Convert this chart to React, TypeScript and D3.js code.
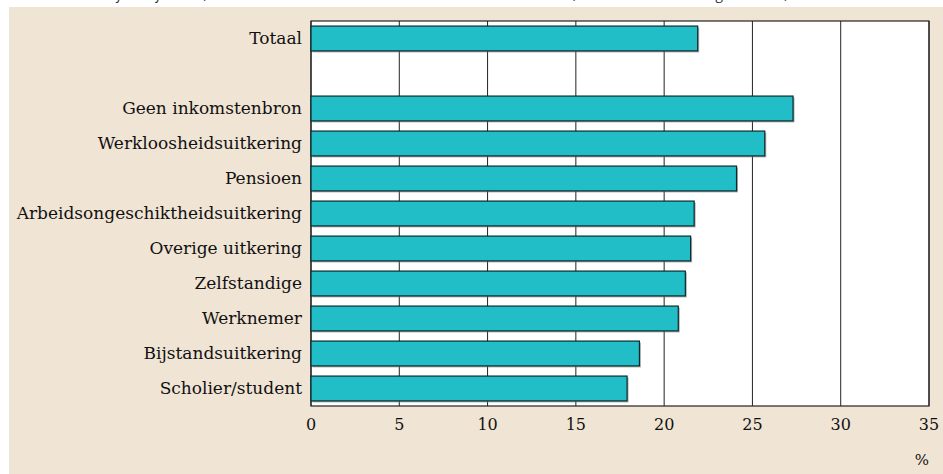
import React from "react";
import * as d3 from "d3";

const categories = [
  "Totaal",
  "",
  "Geen inkomstenbron",
  "Werkloosheidsuitkering",
  "Pensioen",
  "Arbeidsongeschiktheidsuitkering",
  "Overige uitkering",
  "Zelfstandige",
  "Werknemer",
  "Bijstandsuitkering",
  "Scholier/student",
];
const values: (number | null)[] = [21.9, null, 27.3, 25.7, 24.1, 21.7, 21.5, 21.2, 20.8, 18.6, 17.9];
const xTicks = [0, 5, 10, 15, 20, 25, 30, 35];
const titleText = "Personen van 15 jaar of ouder, naar voornaamste inkomstenbron van het huishouden, aandeel met een laag inkomen, 2008";
const unitLabel = "%";

const W = 943;
const H = 474;
const M = { left: 311, right: 929, top: 21, bottom: 406 };

export default function App() {
  const x = d3.scaleLinear().domain([0, 35]).range([M.left, M.right]);
  const y = d3
    .scaleBand<string>()
    .domain(categories.map((c, i) => String(i)))
    .range([M.top, M.bottom])
    .paddingInner(0.29)
    .paddingOuter(0.145);

  const serif = "'DejaVu Serif', serif";

  return (
    <svg width={W} height={H} style={{ position: "absolute", left: 0, top: 0 }}>
      <rect x={0} y={0} width={W} height={H} fill="#ffffff" />
      <text
        x={4}
        y={-1}
        fontFamily="'Open Sans', sans-serif"
        fontStyle="italic"
        fontSize={15}
        fill="#333"
      >
        {titleText}
      </text>
      <rect x={9} y={7} width={W - 9} height={H - 7} fill="#F0E4D4" />
      <rect x={M.left} y={M.top} width={M.right - M.left} height={M.bottom - M.top} fill="#ffffff" />
      {xTicks.map((t) => (
        <line
          key={"g" + t}
          x1={x(t)}
          x2={x(t)}
          y1={M.top}
          y2={M.bottom}
          stroke="#222"
          strokeWidth={1}
        />
      ))}
      <rect
        x={M.left}
        y={M.top}
        width={M.right - M.left}
        height={M.bottom - M.top}
        fill="none"
        stroke="#222"
        strokeWidth={1.2}
      />
      {values.map((v, i) =>
        v == null ? null : (
          <g key={"b" + i}>
            <rect
              x={x(0) + 1.5}
              y={(y(String(i)) as number) + 1.5}
              width={x(v) - x(0)}
              height={y.bandwidth()}
              fill="#7a7a7a"
              opacity={0.6}
            />
            <rect
              x={x(0)}
              y={y(String(i))}
              width={x(v) - x(0)}
              height={y.bandwidth()}
              fill="#21BEC8"
              stroke="#0b2a2c"
              strokeWidth={1.2}
            />
          </g>
        )
      )}
      {categories.map((c, i) =>
        c ? (
          <text
            key={"l" + i}
            x={302}
            y={(y(String(i)) as number) + y.bandwidth() / 2}
            dy="0.35em"
            textAnchor="end"
            fontFamily={serif}
            fontSize={17}
            fill="#111"
          >
            {c}
          </text>
        ) : null
      )}
      {xTicks.map((t) => (
        <text
          key={"t" + t}
          x={x(t)}
          y={430}
          textAnchor="middle"
          fontFamily={serif}
          fontSize={16}
          fill="#111"
        >
          {t}
        </text>
      ))}
      <text
        x={M.right}
        y={465}
        textAnchor="end"
        fontFamily={serif}
        fontSize={15}
        fill="#111"
      >
        {unitLabel}
      </text>
    </svg>
  );
}
